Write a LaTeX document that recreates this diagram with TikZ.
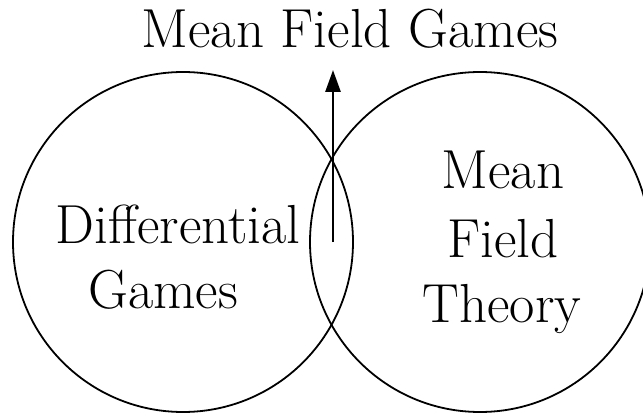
\documentclass[tikz,border=0pt]{standalone}
\usetikzlibrary{arrows.meta}
\begin{document}
\begin{tikzpicture}[x=1pt,y=1pt,
  setcircle/.style={draw, line width=1.8pt},
  label50/.style={anchor=base, inner sep=0pt, font=\fontsize{55}{66}\selectfont},
  arrowline/.style={line width=2.8pt, -{Triangle[length=22pt,width=15pt]}}]
\useasboundingbox (0,0) rectangle (643,416);
\begin{scope}
\clip (0,0) rectangle (643,416);
\draw[setcircle] (183,174) circle (170);
\draw[setcircle] (480,174) circle (170);
\end{scope}
\coordinate (start) at (333,174);
\coordinate (tip) at (333,346);
\draw[arrowline] (start) -- (tip);
\node[label50] (title) at (350,368) {Mean Field Games};
\node[label50] (dg1) at (178,173) {Differential};
\node[label50] (dg2) at (163,108) {Games};
\node[label50] (mf1) at (503,228) {Mean};
\node[label50] (mf2) at (503,159) {Field};
\node[label50] (mf3) at (502,94) {Theory};
\end{tikzpicture}
\end{document}
